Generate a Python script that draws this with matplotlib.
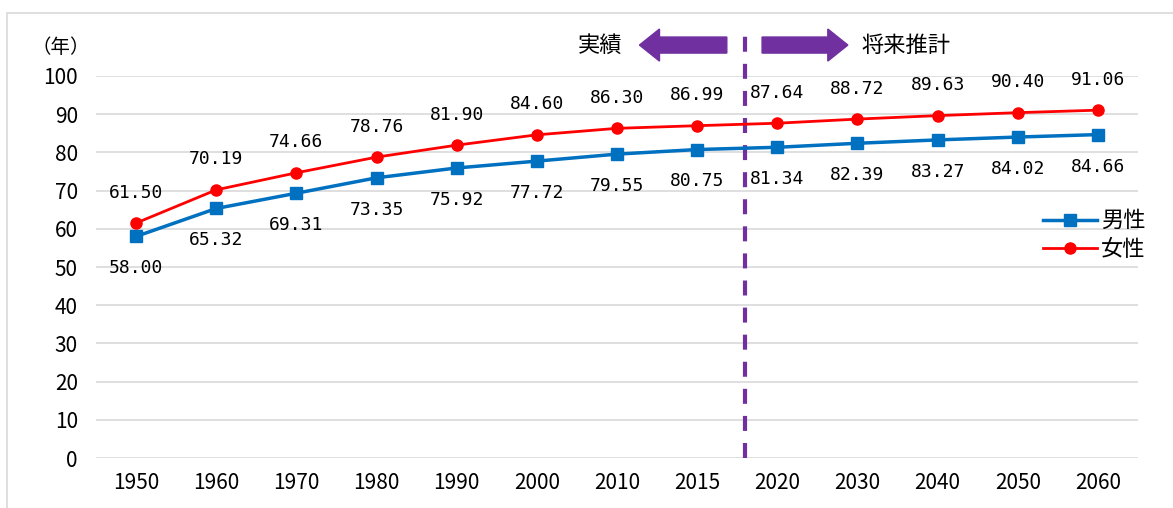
import matplotlib.pyplot as plt
from matplotlib.patches import Rectangle, FancyArrow

plt.rcParams['font.family'] = ['Noto Sans CJK JP', 'DejaVu Sans']

years = ['1950', '1960', '1970', '1980', '1990', '2000', '2010', '2015',
         '2020', '2030', '2040', '2050', '2060']
male = [58.00, 65.32, 69.31, 73.35, 75.92, 77.72, 79.55, 80.75,
        81.34, 82.39, 83.27, 84.02, 84.66]
female = [61.50, 70.19, 74.66, 78.76, 81.90, 84.60, 86.30, 86.99,
          87.64, 88.72, 89.63, 90.40, 91.06]

fig = plt.figure(figsize=(11.73, 5.08), dpi=100)
ax = fig.add_axes([0.0818, 0.0984, 0.8884, 0.7520])

x = list(range(len(years)))
ax.plot(x, male, color='#0070C0', lw=2.5, marker='s', ms=9, label='男性', zorder=3)
ax.plot(x, female, color='#FF0000', lw=2.0, marker='o', ms=8, label='女性', zorder=3)

for i in x:
    ax.annotate(f'{female[i]:.2f}', (i, female[i]), xytext=(0, 22), textcoords='offset points',
                ha='center', va='center', fontsize=13, family='DejaVu Sans Mono')
    ax.annotate(f'{male[i]:.2f}', (i, male[i]), xytext=(0, -23), textcoords='offset points',
                ha='center', va='center', fontsize=13, family='DejaVu Sans Mono')

ax.set_xlim(-0.5, len(years) - 0.5)
ax.set_ylim(0, 100)
ax.set_yticks(range(0, 101, 10))
ax.set_xticks(x)
ax.set_xticklabels(years)
ax.tick_params(axis='both', length=0, labelsize=15)
ax.tick_params(axis='x', pad=10)
ax.tick_params(axis='y', pad=13)
ax.grid(axis='y', color='#d9d9d9', lw=1.2)
ax.set_axisbelow(True)
for s in ax.spines.values():
    s.set_visible(False)

fig.text(61 / 1173, 1 - 47 / 508, '（年）', ha='center', va='center', fontsize=14)

# border of the chart area
fig.patches.append(Rectangle((7 / 1173, -0.1), 1.2, 1 - 13 / 508 + 0.1, transform=fig.transFigure,
                             fill=False, edgecolor='#d9d9d9', lw=1.2))

# divider between actual and projection
div = 7.6
ax.plot([div, div], [0, 110.7], color='#7030A0', lw=3, ls=(0, (3.6, 2.9)), clip_on=False, zorder=2)
ax.add_patch(FancyArrow(7.37, 108.1, -1.09, 0, width=4.2, head_width=8.4, head_length=0.25,
                        color='#7030A0', clip_on=False, length_includes_head=True))
ax.add_patch(FancyArrow(7.81, 108.1, 1.07, 0, width=4.2, head_width=8.4, head_length=0.25,
                        color='#7030A0', clip_on=False, length_includes_head=True))
ax.text(6.07, 108.1, '実績', ha='right', va='center', fontsize=16)
ax.text(9.05, 108.1, '将来推計', ha='left', va='center', fontsize=16)

ax.legend(loc='upper right', bbox_to_anchor=(1.018, 0.68), frameon=False, fontsize=16,
          handlelength=2.4, handletextpad=0.2, labelspacing=0.25, borderpad=0)

fig.savefig('out.png')
